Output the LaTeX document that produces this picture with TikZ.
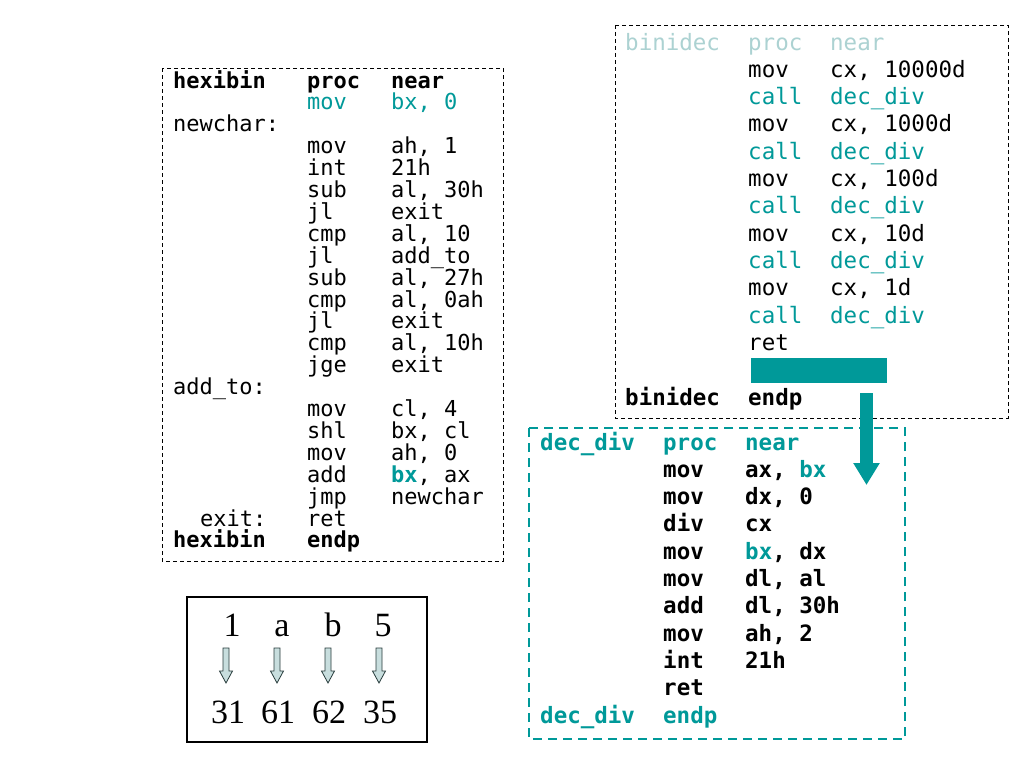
\documentclass[tikz,border=0pt]{standalone}
\usepackage{fontspec}
\setmainfont{Liberation Serif}
\newfontfamily\codefont{DejaVu Sans Mono}
\usetikzlibrary{arrows.meta}
\definecolor{tealc}{RGB}{0,153,153}
\definecolor{palec}{RGB}{172,210,210}
\definecolor{arrfill}{RGB}{200,222,222}
\definecolor{arrline}{RGB}{40,60,60}
\newcommand\lcols[3]{\makebox[134pt][l]{#1}\makebox[84pt][l]{#2}#3}
\newcommand\rcols[3]{\makebox[123pt][l]{#1}\makebox[82pt][l]{#2}#3}
\newcommand\smallarr[1]{\draw[fill=arrfill,draw=arrline,line width=0.8pt]
  (#1-3,648) -- (#1+3,648) -- (#1+3,671) -- (#1+6.5,671) -- (#1,683) -- (#1-6.5,671) -- (#1-3,671) -- cycle;}
\begin{document}
\begin{tikzpicture}[x=1pt,y=-1pt,
  lcode/.style={anchor=base west, inner sep=0pt, font=\codefont\fontsize{22}{22}\selectfont},
  lbold/.style={anchor=base west, inner sep=0pt, font=\codefont\bfseries\fontsize{22}{22}\selectfont},
  rcode/.style={anchor=base west, inner sep=0pt, font=\codefont\fontsize{22.5}{22.5}\selectfont},
  rbold/.style={anchor=base west, inner sep=0pt, font=\codefont\bfseries\fontsize{22.5}{22.5}\selectfont},
  blackdash/.style={draw=black, line width=0.8pt, dash pattern=on 4pt off 3pt},
  tealdash/.style={draw=tealc, line width=2pt, dash pattern=on 9pt off 6pt},
  digit/.style={anchor=base, inner sep=0pt, font=\fontsize{34}{34}\selectfont}]
\useasboundingbox (0,0) rectangle (1024,768);
\fill[white] (0,0) rectangle (1024,768);

% ---------- left box: hexibin ----------
\draw[blackdash] (162,68) rectangle (503,561);
\node[lbold] (l0) at (173,88) {\lcols{hexibin}{proc}{near}};
\node[lcode,text=tealc] (l1) at (173,109.9) {\lcols{}{mov}{bx, 0}};
\node[lcode] (l2) at (173,131.8) {newchar:};
\node[lcode] (l3) at (173,153.7) {\lcols{}{mov}{ah, 1}};
\node[lcode] (l4) at (173,175.6) {\lcols{}{int}{21h}};
\node[lcode] (l5) at (173,197.5) {\lcols{}{sub}{al, 30h}};
\node[lcode] (l6) at (173,219.4) {\lcols{}{jl}{exit}};
\node[lcode] (l7) at (173,241.3) {\lcols{}{cmp}{al, 10}};
\node[lcode] (l8) at (173,263.2) {\lcols{}{jl}{add\_to}};
\node[lcode] (l9) at (173,285.1) {\lcols{}{sub}{al, 27h}};
\node[lcode] (l10) at (173,307) {\lcols{}{cmp}{al, 0ah}};
\node[lcode] (l11) at (173,328.9) {\lcols{}{jl}{exit}};
\node[lcode] (l12) at (173,350.8) {\lcols{}{cmp}{al, 10h}};
\node[lcode] (l13) at (173,372.7) {\lcols{}{jge}{exit}};
\node[lcode] (l14) at (173,394.6) {add\_to:};
\node[lcode] (l15) at (173,416.5) {\lcols{}{mov}{cl, 4}};
\node[lcode] (l16) at (173,438.4) {\lcols{}{shl}{bx, cl}};
\node[lcode] (l17) at (173,460.3) {\lcols{}{mov}{ah, 0}};
\node[lcode] (l18) at (173,482.2) {\lcols{}{add}{\textcolor{tealc}{\bfseries bx}, ax}};
\node[lcode] (l19) at (173,504.1) {\lcols{}{jmp}{newchar}};
\node[lcode] (l20) at (173,526) {\lcols{\hspace*{27pt}exit:}{ret}{}};
\node[lbold] (l21) at (173,547.9) {\lcols{hexibin}{endp}{}};

% ---------- right box: binidec ----------
\draw[blackdash] (615,25) rectangle (1008,418);
\node[rcode,text=palec] (r0) at (625,50) {\rcols{binidec}{proc}{near}};
\node[rcode] (r1) at (625,77.3) {\rcols{}{mov}{cx, 10000d}};
\node[rcode,text=tealc] (r2) at (625,104.6) {\rcols{}{call}{dec\_div}};
\node[rcode] (r3) at (625,131.9) {\rcols{}{mov}{cx, 1000d}};
\node[rcode,text=tealc] (r4) at (625,159.2) {\rcols{}{call}{dec\_div}};
\node[rcode] (r5) at (625,186.5) {\rcols{}{mov}{cx, 100d}};
\node[rcode,text=tealc] (r6) at (625,213.8) {\rcols{}{call}{dec\_div}};
\node[rcode] (r7) at (625,241.1) {\rcols{}{mov}{cx, 10d}};
\node[rcode,text=tealc] (r8) at (625,268.4) {\rcols{}{call}{dec\_div}};
\node[rcode] (r9) at (625,295.7) {\rcols{}{mov}{cx, 1d}};
\node[rcode,text=tealc] (r10) at (625,323) {\rcols{}{call}{dec\_div}};
\node[rcode] (r11) at (625,350.3) {\rcols{}{ret}{}};
\node[fill=tealc, inner sep=0pt, minimum width=136pt, minimum height=25pt, anchor=north west] (bar) at (751,358) {};
\node[rbold] (r13) at (625,405) {\rcols{binidec}{endp}{}};

% ---------- dec_div box ----------
\draw[tealdash] (529,428) rectangle (905,739);
\node[rbold,text=tealc] (d0) at (540,450) {\rcols{dec\_div}{proc}{near}};
\node[rbold] (d1) at (540,477.3) {\rcols{}{mov}{ax, \textcolor{tealc}{bx}}};
\node[rbold] (d2) at (540,504.6) {\rcols{}{mov}{dx, 0}};
\node[rbold] (d3) at (540,531.9) {\rcols{}{div}{cx}};
\node[rbold] (d4) at (540,559.2) {\rcols{}{mov}{\textcolor{tealc}{bx}, dx}};
\node[rbold] (d5) at (540,586.5) {\rcols{}{mov}{dl, al}};
\node[rbold] (d6) at (540,613.8) {\rcols{}{add}{dl, 30h}};
\node[rbold] (d7) at (540,641.1) {\rcols{}{mov}{ah, 2}};
\node[rbold] (d8) at (540,668.4) {\rcols{}{int}{21h}};
\node[rbold] (d9) at (540,695.7) {\rcols{}{ret}{}};
\node[rbold,text=tealc] (d10) at (540,723) {\rcols{dec\_div}{endp}{}};

% ---------- big arrow ----------
\coordinate (arrS) at (866.5,393);
\coordinate (arrE) at (866.5,485);
\draw[tealc, line width=13pt, -{Triangle[length=22pt,width=25pt]}] (arrS) -- (arrE);

% ---------- ascii box ----------
\draw[black, line width=1.2pt] (187,597) rectangle (427,742);
\node[digit] (c1) at (232,636) {1};
\node[digit] (c2) at (282,636) {a};
\node[digit] (c3) at (333,636) {b};
\node[digit] (c4) at (383,636) {5};
\smallarr{226}
\smallarr{277}
\smallarr{328}
\smallarr{379}
\node[digit] (h1) at (228,723) {31};
\node[digit] (h2) at (278,723) {61};
\node[digit] (h3) at (329,723) {62};
\node[digit] (h4) at (380,723) {35};
\end{tikzpicture}
\end{document}
